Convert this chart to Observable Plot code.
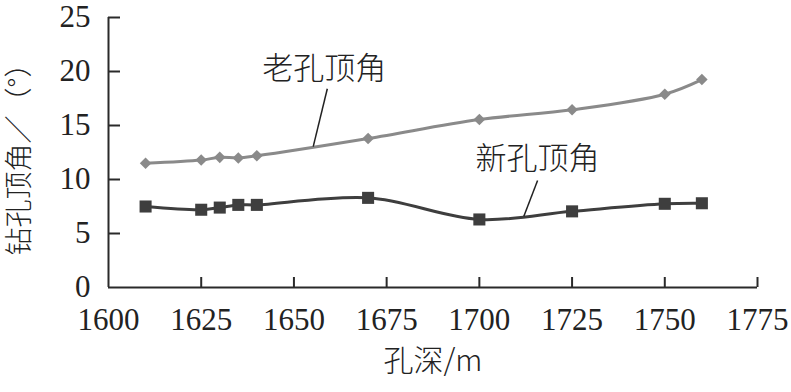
<!DOCTYPE html>
<html>
<head>
<meta charset="utf-8">
<script src="https://cdn.jsdelivr.net/npm/d3@7"></script>
<script src="https://cdn.jsdelivr.net/npm/@observablehq/plot@0.6"></script>
<style>
  html, body { margin: 0; padding: 0; background: #fff; }
</style>
</head>
<body>
<div id="chart"></div>
<script>
// ---- data ----
const depth = [1610, 1625, 1630, 1635, 1640, 1670, 1700, 1725, 1750, 1760];
const oldAngle = [11.5, 11.8, 12.05, 12.0, 12.2, 13.8, 15.55, 16.45, 17.9, 19.25];
const newAngle = [7.5, 7.2, 7.4, 7.65, 7.65, 8.3, 6.3, 7.05, 7.75, 7.8];
const xTicks = [1600, 1625, 1650, 1675, 1700, 1725, 1750, 1775];
const yTicks = [0, 5, 10, 15, 20, 25];
const seriesNames = ["老孔顶角", "新孔顶角"];
// annotation anchors (data coordinates)
const labelX = [1658.2, 1715.7];
const labelY = [20.25, 11.85];
const leaderX1 = [1659.0, 1715.7];
const leaderY1 = [18.4, 9.9];
const leaderX2 = [1655.2, 1712.0];
const leaderY2 = [13.05, 6.6];
const xTitle = "孔深/m";
const yTitle = "钻孔顶角／（°）";

const oldData = depth.map((d, i) => ({depth: d, angle: oldAngle[i]}));
const newData = depth.map((d, i) => ({depth: d, angle: newAngle[i]}));
const annots = seriesNames.map((s, i) => ({text: s, x: labelX[i], y: labelY[i]}));
const leaders = seriesNames.map((s, i) => ({x1: leaderX1[i], y1: leaderY1[i], x2: leaderX2[i], y2: leaderY2[i]}));

const serif = "Liberation Serif, DejaVu Serif, serif";
const cjk = "Noto Sans CJK SC, sans-serif";
const axisColor = "#2a2a2a";
const oldColor = "#8a8a8a";
const newColor = "#3e3e3e";

const W = 791, H = 392;
const mL = 108, mR = 34, mT = 17, mB = 105;
const frameW = W - mL - mR, frameH = H - mT - mB;

const chart = Plot.plot({
  width: W,
  height: H,
  marginLeft: mL,
  marginRight: mR,
  marginTop: mT,
  marginBottom: mB,
  style: {background: "#fff", color: axisColor},
  x: {domain: [1600, 1775]},
  y: {domain: [0, 25]},
  marks: [
    Plot.axisX(xTicks, {tickSize: 0, tickPadding: 20, tickFormat: d => String(d), fontSize: 31, fontFamily: serif, fill: "#222", label: null}),
    Plot.axisY(yTicks, {tickSize: 0, tickPadding: 18, tickFormat: d => String(d), fontSize: 31, fontFamily: serif, fill: "#222", label: null}),
    Plot.tickX(xTicks.filter(d => d > 1600), {x: d => d, insetTop: frameH - 10, stroke: axisColor, strokeWidth: 2}),
    Plot.tickY(yTicks.filter(d => d > 0), {y: d => d, insetRight: frameW - 12, stroke: axisColor, strokeWidth: 2}),
    Plot.ruleY([0], {stroke: axisColor, strokeWidth: 2}),
    Plot.ruleX([1600], {stroke: axisColor, strokeWidth: 2}),
    Plot.line(oldData, {x: "depth", y: "angle", curve: "catmull-rom", stroke: oldColor, strokeWidth: 3}),
    Plot.line(newData, {x: "depth", y: "angle", curve: "catmull-rom", stroke: newColor, strokeWidth: 3}),
    Plot.dot(oldData, {x: "depth", y: "angle", symbol: "diamond2", r: 5.2, fill: oldColor, stroke: "none"}),
    Plot.dot(newData, {x: "depth", y: "angle", symbol: "square", r: 6.8, fill: newColor, stroke: "none"}),
    Plot.link(leaders, {x1: "x1", y1: "y1", x2: "x2", y2: "y2", stroke: "#222", strokeWidth: 1.5}),
    Plot.text(annots, {x: "x", y: "y", text: "text", fontSize: 31, fontWeight: 300, fontFamily: cjk, fill: "#222"}),
    Plot.text([xTitle], {text: d => d, frameAnchor: "bottom", textAnchor: "middle", dy: 83, fontSize: 30, fontWeight: 300, fontFamily: cjk, fill: "#222"}),
    Plot.text([yTitle], {text: d => d, frameAnchor: "left", textAnchor: "middle", dx: -88, rotate: -90, fontSize: 28, fontWeight: 300, fontFamily: cjk, fill: "#222"})
  ]
});
document.getElementById("chart").appendChild(chart);
</script>
</body>
</html>
